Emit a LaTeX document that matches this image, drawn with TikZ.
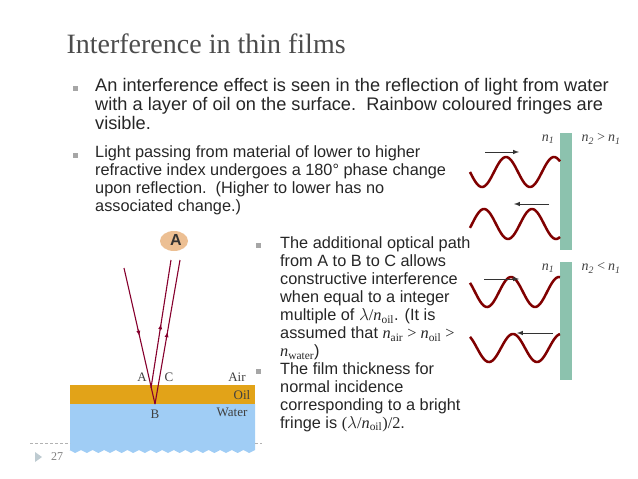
\documentclass[tikz,border=0pt]{standalone}
\usepackage{fontspec}
\usetikzlibrary{calc,shapes.geometric}
\setmainfont{Liberation Sans}
\newfontfamily\serf{Liberation Serif}
\definecolor{barc}{HTML}{8CC2AE}
\definecolor{waterc}{HTML}{A0CDF5}
\definecolor{oilc}{HTML}{E2A318}
\begin{document}
\begin{tikzpicture}[x=1pt,y=-1pt,
  body/.style={anchor=north west,align=left,inner sep=0pt,text=black!85,font=\fontsize{18.2}{19.2}\selectfont},
  small/.style={anchor=north west,align=left,inner sep=0pt,text=black!85,font=\fontsize{16.3}{18.1}\selectfont},
  bul/.style={fill=gray!70,minimum size=5pt,inner sep=0pt},
  ray/.style={draw=purple!70!black,line width=1.1pt},
  wave/.style={draw=red!50!black,line width=2.5pt},
  lab/.style={font=\serf\fontsize{13}{13}\selectfont,text=black!75,inner sep=0pt},
  nlab/.style={font=\serf\itshape\fontsize{14}{14}\selectfont,text=black!75,inner sep=0pt},
  bar/.style={fill=barc,draw=none},
  arr/.style={-latex,line width=1pt,black!80}]
\useasboundingbox (0,0) rectangle (638,479);
\node[anchor=west,font=\serf\fontsize{28}{28}\selectfont,text=black!70] (title) at (63,44) {Interference in thin films};
% bullets
\node[bul] (b1) at (75,88) {};
\node[body] (t1) at (95,78) {An interference effect is seen in the reflection of light from water\\with a layer of oil on the surface.\ \ Rainbow coloured fringes are\\visible.};
\node[bul] (b2) at (75,155) {};
\node[small] (t2) at (95,145) {Light passing from material of lower to higher\\refractive index undergoes a 180° phase change\\upon reflection.\ \ (Higher to lower has no\\associated change.)};
\node[bul] (b3) at (258,245) {};
\node[small] (t3) at (280,236) {The additional optical path\\from A to B to C allows\\constructive interference\\when equal to a integer\\multiple of {\serf$\lambda$/\textit{n}\textsubscript{oil}}. (It is\\assumed that {\serf\textit{n}\textsubscript{air} > \textit{n}\textsubscript{oil} >}\\{\serf\textit{n}\textsubscript{water}})};
\node[bul] (b4) at (258,371) {};
\node[small] (t4) at (280,362) {The film thickness for\\normal incidence\\corresponding to a bright\\fringe is {\serf($\lambda$/\textit{n}\textsubscript{oil})/2}.};
% film
\fill[oilc] (70,385) rectangle (255,404);
\fill[waterc] (70,404) -- (255,404) -- (255,450)
  \foreach \i in {0,...,15} {-- ++(-5.8,3) -- ++(-5.8,-3)} -- (70,450) -- cycle;
\node[lab] (air) at (237,377) {Air};
\node[lab] (oil) at (242,395) {Oil};
\node[lab] (wat) at (232,412) {Water};
\node[lab] (A) at (142,377) {A};
\node[lab] (C) at (169,377) {C};
\node[lab] (B) at (155,414) {B};
\coordinate (s) at (124,268);
\coordinate (pB) at (155,404);
\coordinate (pA) at (151,388);
\coordinate (e1) at (171,260);
\coordinate (e2) at (180,260);
\draw[ray] (s) -- (pB);
\draw[ray] (pA) -- (e1);
\draw[ray] (pB) -- (e2);
\foreach \p/\q in {s/pB,pB/e2,pA/e1}{\draw[-latex,purple!70!black,line width=0.8pt] ($(\p)!0.45!(\q)$) -- ($(\p)!0.5!(\q)$);}
% eye
\node[ellipse,fill=brown!60!orange!50,minimum width=28pt,minimum height=20pt,inner sep=0pt] (eye) at (174,241) {};
\node[font=\bfseries\fontsize{16}{16}\selectfont,text=black!80] (eA) at (176,240) {A};
% wave panels
\fill[bar] (560,133) rectangle (572,250);
\fill[bar] (560,262) rectangle (572,380);
\node[nlab] (n1a) at (548,139) {n\textsubscript{1}};
\node[nlab] (n2a) at (601,139) {n\textsubscript{2}\,>\,n\textsubscript{1}};
\node[nlab] (n1b) at (548,268) {n\textsubscript{1}};
\node[nlab] (n2b) at (601,268) {n\textsubscript{2}\,<\,n\textsubscript{1}};
\draw[wave] plot[variable=\t,domain=0:90,samples=90] ({470+\t},{172+15*cos(7.5*(\t-12))});
\draw[wave] plot[variable=\t,domain=0:90,samples=90] ({470+\t},{224-15*cos(7.5*(\t-14))});
\draw[wave] plot[variable=\t,domain=0:90,samples=90] ({470+\t},{292+15*cos(7.5*(\t-17))});
\draw[wave] plot[variable=\t,domain=0:90,samples=90] ({470+\t},{348+14*cos(7.5*(\t-19))});
\coordinate (a1) at (485,152); \coordinate (a1e) at (519,152);
\coordinate (a2) at (549,204); \coordinate (a2e) at (514,204);
\coordinate (a3) at (484,279); \coordinate (a3e) at (519,279);
\coordinate (a4) at (553,333); \coordinate (a4e) at (517,333);
\draw[arr] (a1) -- (a1e);
\draw[arr] (a2) -- (a2e);
\draw[arr] (a3) -- (a3e);
\draw[arr] (a4) -- (a4e);
% footer
\draw[densely dashed,gray!60] (30,443) -- (70,443);
\draw[densely dashed,gray!60] (255,443) -- (262,443);
\fill[cyan!20!gray!50] (35,452) -- (42,457) -- (35,462) -- cycle;
\node[font=\serf\fontsize{12}{12}\selectfont,text=gray] (pg) at (57,457) {27};
\end{tikzpicture}
\end{document}
